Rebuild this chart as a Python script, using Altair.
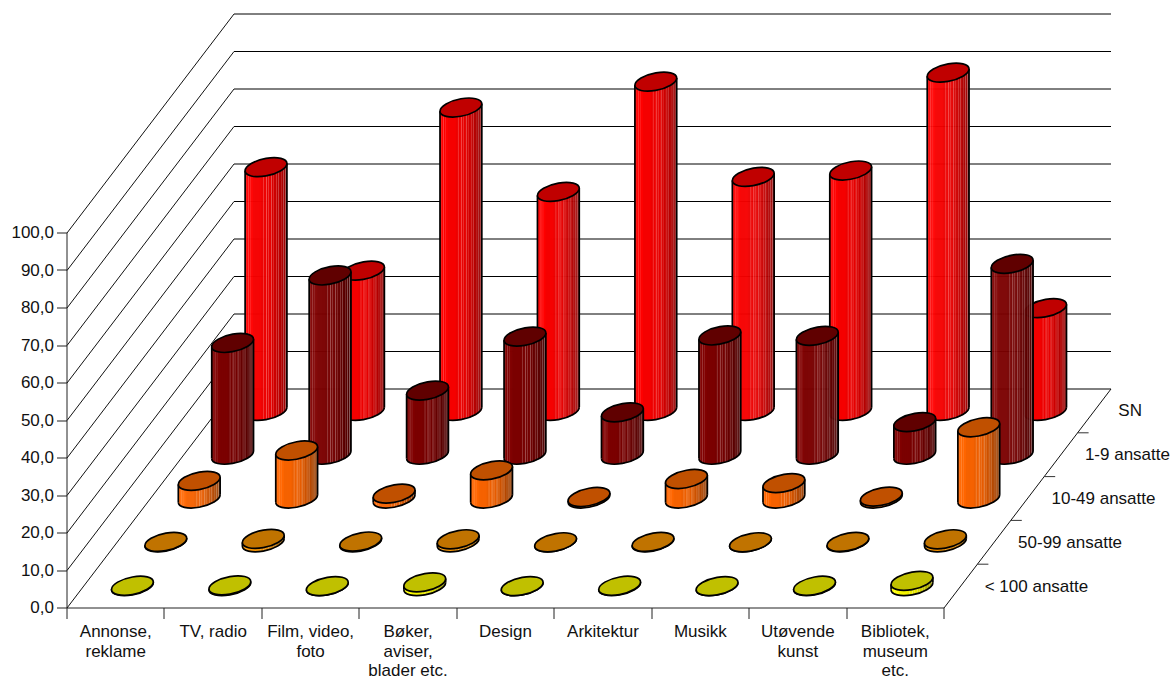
import math

import altair as alt
import numpy as np
import pandas as pd

# Survey results per sector and company size (percent)
categories = [
    "Annonse,\nreklame", "TV, radio", "Film, video,\nfoto",
    "Bøker,\naviser,\nblader etc.", "Design", "Arkitektur",
    "Musikk", "Utøvende\nkunst", "Bibliotek,\nmuseum\netc.",
]
# Rows run from the front of the floor to the back
series_names = ["< 100 ansatte", "50-99 ansatte", "10-49 ansatte", "1-9 ansatte", "SN"]
under_100 = [0.1, 0.2, 0.0, 1.0, 0.0, 0.1, 0.0, 0.1, 1.4]
size_50_99 = [0.1, 0.9, 0.2, 0.8, 0.0, 0.1, 0.0, 0.1, 0.8]
size_10_49 = [4.7, 12.8, 1.3, 7.5, 0.4, 5.2, 4.1, 0.5, 19.0]
size_1_9 = [29.8, 47.8, 17.1, 31.5, 11.3, 31.8, 31.7, 8.7, 50.9]
sn_total = [65.0, 37.4, 80.9, 58.4, 87.8, 62.4, 64.1, 90.2, 27.4]
series_values = [under_100, size_50_99, size_10_49, size_1_9, sn_total]

body_colors = [(255, 255, 0), (255, 153, 0), (255, 102, 0), (128, 0, 0), (255, 0, 0)]
top_colors = ["#c0c000", "#c07300", "#c05000", "#600000", "#c00000"]

y_ticks = list(range(0, 101, 10))
x_ticks = list(range(0, 10))

# Shading across one cylinder, left to right, in 42 columns
column_shade = ([1.0] * 8 + [0.96] * 8 + [0.93] * 6 + [0.90] * 4 + [0.85] * 3
                + [0.80] * 3 + [0.74] * 3 + [0.68] * 3 + [0.62] * 2 + [0.58] * 2)
column_sheen = {1: 0.10, 3: 0.22, 5: 0.12, 18: 0.20, 21: 0.30, 23: 0.20, 26: 0.30,
                28: 0.15, 31: 0.20, 33: 0.25, 36: 0.15, 38: 0.30, 40: 0.35}

# Plot area is the front wall; everything else is an oblique offset from it
PLOT_W, PLOT_H = 877, 375
PX_PER_CAT = PLOT_W / 9
PX_PER_VAL = PLOT_H / 100
DEPTH_X = 167 / PX_PER_CAT
DEPTH_Y = 219 / PX_PER_VAL
TEXT_SIZE = 17

# Cylinder cross-section: a tilted ellipse, in pixels
ELL_A, ELL_B, TILT = 21.3, 8.6, math.radians(12)
cos_t, sin_t = math.cos(TILT), math.sin(TILT)
HALF_W = math.sqrt((ELL_A * cos_t) ** 2 + (ELL_B * sin_t) ** 2)
TIP_DY = (ELL_A ** 2 - ELL_B ** 2) * sin_t * cos_t / HALF_W
SYMBOL_R = 21.0
rx, ry = ELL_A / SYMBOL_R, ELL_B / SYMBOL_R
tx, ty = HALF_W / SYMBOL_R, TIP_DY / SYMBOL_R
ARC = f"{rx:.4f} {ry:.4f} -12"
ELLIPSE_PATH = (f"M {-tx:.4f} {ty:.4f} A {ARC} 1 1 {tx:.4f} {-ty:.4f} "
                f"A {ARC} 1 1 {-tx:.4f} {ty:.4f} Z")
LOWER_ARC_PATH = f"M {-tx:.4f} {ty:.4f} A {ARC} 0 0 {tx:.4f} {-ty:.4f}"
SYMBOL_SIZE = (2 * SYMBOL_R) ** 2
OUTLINE = 1.7


def lower_offset(px):
    """Downward pixel offset of the ellipse's lower edge at horizontal offset px."""
    a = sin_t ** 2 / ELL_A ** 2 + cos_t ** 2 / ELL_B ** 2
    b = 2 * px * sin_t * cos_t * (1 / ELL_B ** 2 - 1 / ELL_A ** 2)
    c = px ** 2 * (cos_t ** 2 / ELL_A ** 2 + sin_t ** 2 / ELL_B ** 2) - 1
    return (-b + np.sqrt(np.maximum(b * b - 4 * a * c, 0))) / (2 * a)


def column_color(rgb, i):
    shade, sheen = column_shade[i], column_sheen.get(i, 0.0)
    parts = [c * shade * (1 - sheen) + 255 * sheen for c in rgb]
    return "#%02x%02x%02x" % tuple(int(round(p)) for p in parts)


x_scale = alt.Scale(domain=[0, 9], nice=False, zero=False)
y_scale = alt.Scale(domain=[0, 100], nice=False, zero=False)
# Every layer shares the same axes: y ticks with decimal commas, x ticks at category boundaries
x_axis = alt.Axis(values=x_ticks, labels=False, tickSize=11, tickColor="#222",
                  domainColor="#222", grid=False, translate=0, title=None)
y_axis = alt.Axis(values=y_ticks, tickSize=10, tickColor="#222", domainColor="#222", grid=False,
                  labelExpr="replace(format(datum.value, '.1f'), '.', ',')",
                  labelFont="Liberation Sans", labelFontSize=TEXT_SIZE, labelColor="#111",
                  labelPadding=3, translate=0, title=None)
X = alt.X("x:Q", scale=x_scale, axis=x_axis)
Y = alt.Y("y:Q", scale=y_scale, axis=y_axis)
X2 = alt.X2("x2:Q")
Y2 = alt.Y2("y2:Q")

layers = []

# Back wall lines and left wall diagonals
back_wall = pd.DataFrame({"x": DEPTH_X, "x2": 9 + DEPTH_X,
                          "y": [t + DEPTH_Y for t in y_ticks]})
left_wall = pd.DataFrame({"x": 0.0, "x2": DEPTH_X, "y": [float(t) for t in y_ticks],
                          "y2": [t + DEPTH_Y for t in y_ticks]})
right_edge = pd.DataFrame({"x": [9.0], "x2": [9 + DEPTH_X], "y": [0.0], "y2": [DEPTH_Y]})
depth_steps = [0.2, 0.4, 0.6, 0.8]
depth_ticks = pd.DataFrame({"x": [9 + DEPTH_X * d for d in depth_steps],
                            "x2": [9 + DEPTH_X * d + 11 / PX_PER_CAT for d in depth_steps],
                            "y": [DEPTH_Y * d for d in depth_steps]})
layers.append(alt.Chart(back_wall).mark_rule(stroke="black", strokeWidth=1).encode(x=X, x2=X2, y=Y))
layers.append(alt.Chart(left_wall).mark_rule(stroke="#111", strokeWidth=1).encode(x=X, x2=X2, y=Y, y2=Y2))
layers.append(alt.Chart(right_edge).mark_rule(stroke="#111", strokeWidth=1).encode(x=X, x2=X2, y=Y, y2=Y2))
layers.append(alt.Chart(depth_ticks).mark_rule(stroke="#333", strokeWidth=1).encode(x=X, x2=X2, y=Y))

# Cylinders, painted from the back row to the front row
column_step = 2 * HALF_W / len(column_shade)
for row in reversed(range(len(series_names))):
    depth = (row + 0.5) / len(series_names)
    strips, centers = [], []
    for k, value in enumerate(series_values[row]):
        cx = k + 0.5 + DEPTH_X * depth
        base = DEPTH_Y * depth
        centers.append({"x": cx, "base": base, "top": base + value,
                        "left": cx - HALF_W / PX_PER_CAT, "right": cx + HALF_W / PX_PER_CAT})
        for i in range(len(column_shade)):
            off = -HALF_W + i * column_step
            mid = off + column_step / 2
            overlap = 0.6 if i < len(column_shade) - 1 else 0.0
            strips.append({
                "x": cx + off / PX_PER_CAT,
                "x2": cx + (off + column_step + overlap) / PX_PER_CAT,
                "y": base + value + (mid / HALF_W) * TIP_DY / PX_PER_VAL,
                "y2": base - float(lower_offset(mid)) / PX_PER_VAL,
                "fill": column_color(body_colors[row], i),
            })
    strip_frame = pd.DataFrame(strips)
    frame = pd.DataFrame(centers)
    tip = TIP_DY / PX_PER_VAL
    left_side = pd.DataFrame({"x": frame["left"], "y": frame["top"] - tip, "y2": frame["base"] - tip})
    right_side = pd.DataFrame({"x": frame["right"], "y": frame["top"] + tip, "y2": frame["base"] + tip})
    layers.append(
        alt.Chart(strip_frame).mark_rect(strokeWidth=0).encode(
            x=X, x2=X2, y=Y, y2=Y2, color=alt.Color("fill:N", scale=None))
    )
    for side in (left_side, right_side):
        layers.append(alt.Chart(side).mark_rule(stroke="black", strokeWidth=OUTLINE).encode(x=X, y=Y, y2=Y2))
    layers.append(
        alt.Chart(frame.assign(y=frame["base"])).mark_point(
            shape=LOWER_ARC_PATH, size=SYMBOL_SIZE, filled=False, stroke="black",
            strokeWidth=OUTLINE, opacity=1, fill="transparent").encode(x=X, y=Y)
    )
    layers.append(
        alt.Chart(frame.assign(y=frame["top"])).mark_point(
            shape=ELLIPSE_PATH, size=SYMBOL_SIZE, filled=True, fill=top_colors[row], stroke="black",
            strokeWidth=OUTLINE, opacity=1).encode(x=X, y=Y)
    )

# Category names under the floor
category_frame = pd.DataFrame({"x": [k + 0.5 for k in range(9)], "y": 0.0, "label": categories})
layers.append(
    alt.Chart(category_frame).mark_text(
        align="center", baseline="top", dy=16, font="Liberation Sans", fontSize=TEXT_SIZE,
        lineBreak="\n", lineHeight=19.5, color="#111").encode(x=X, y=Y, text="label:N")
)

# Row names along the right floor edge
row_frame = pd.DataFrame({
    "x": [9 + DEPTH_X * (r + 0.5) / 5 for r in range(5)],
    "y": [DEPTH_Y * (r + 0.5) / 5 for r in range(5)],
    "label": series_names,
})
layers.append(
    alt.Chart(row_frame).mark_text(
        align="left", baseline="middle", dx=24, dy=0.5, font="Liberation Sans", fontSize=TEXT_SIZE,
        color="#111").encode(x=X, y=Y, text="label:N")
)

chart = alt.layer(*layers).properties(
    width=PLOT_W, height=PLOT_H, background="white",
    padding={"left": 67, "top": 233, "right": 229, "bottom": 71},
    autosize=alt.AutoSizeParams(type="none"),
).configure_view(strokeWidth=0)

chart.save("out.html", embed_options={"renderer": "svg", "actions": False})
